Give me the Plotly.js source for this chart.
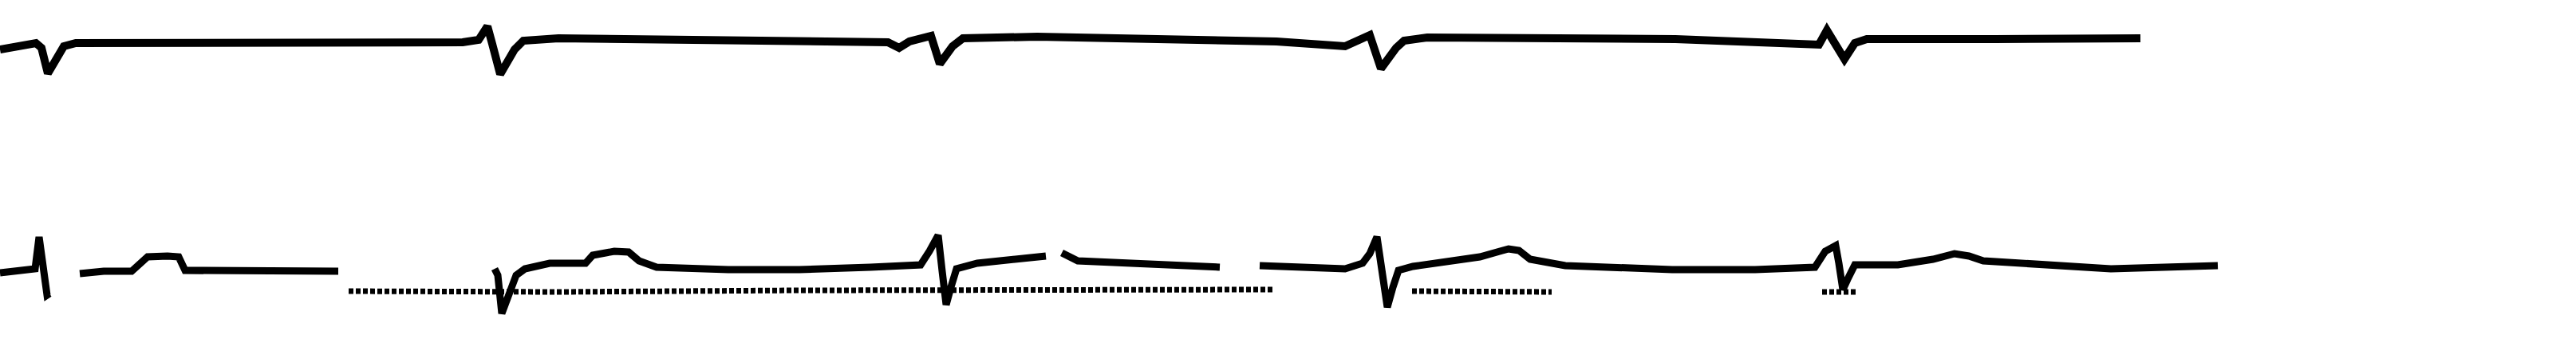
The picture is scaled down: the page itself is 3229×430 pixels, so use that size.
<!DOCTYPE html>
<html>
<head>
<meta charset="utf-8">
<script src="https://cdn.plot.ly/plotly-3.0.1.min.js"></script>
<style>html,body{margin:0;padding:0;background:#fff;}#chart{width:3229px;height:430px;}</style>
</head>
<body>
<div id="chart"></div>
<script>
// Lead 1 (upper strip): time (ms) and amplitude (mV)
const lead1Time = [0,22,45,52,60,70,80,95,300,500,580,600,611,617,627,645,656,700,900,1113,1127,1140,1167,1178,1194,1207,1300,1450,1600,1686,1717,1731,1750,1760,1789,2100,2280,2290,2312,2325,2340,2500,2683];
const lead1Value = [-0.10,-0.05,-0.02,-0.08,-0.40,-0.23,-0.06,-0.02,-0.01,-0.02,-0.01,0.02,0.19,-0.03,-0.41,-0.10,0.01,0.04,0.02,-0.01,-0.08,0.00,0.07,-0.28,-0.06,0.04,0.06,0.02,0.00,-0.06,0.08,-0.34,-0.08,0.01,0.05,0.03,-0.04,0.14,-0.22,-0.02,0.03,0.03,0.04];

// Lead 2 (lower strip), segments separated by gaps (null)
const lead2Time = [0,30,44,49,54,59,62, null,
  100,130,165,172,185,210,224,232,300,424, null,
  620,624,629,640,647,658,689,734,743,770,788,801,823,913,1002,1091,1154,1165,1176,1181,1186,1192,1199,1225,1260,1311, null,
  1331,1340,1351,1418,1470,1529, null,
  1579,1650,1686,1708,1717,1726,1732,1739,1746,1753,1771,1820,1855,1880,1891,1904,1918,1962,2096,2200,2275,2288,2301,2305,2310,2316,2325,2379,2423,2450,2468,2486,2557,2646,2780];
const lead2Value = [-0.05,-0.03,0.00,0.40,0.02,-0.33,-0.31, null,
  -0.06,-0.03,-0.03,0.04,0.15,0.16,0.15,-0.02,-0.03,-0.03, null,
  0.00,-0.08,-0.56,-0.28,-0.08,0.00,0.07,0.07,0.17,0.22,0.21,0.10,0.02,-0.01,-0.01,0.02,0.05,0.22,0.42,-0.03,-0.45,-0.23,0.00,0.07,0.10,0.16, null,
  0.20,0.15,0.10,0.07,0.05,0.02, null,
  0.04,0.00,0.00,0.07,0.19,0.40,-0.03,-0.48,-0.23,-0.02,0.03,0.11,0.15,0.22,0.25,0.23,0.12,0.04,-0.01,-0.01,0.02,0.22,0.29,0.07,-0.26,-0.13,0.05,0.05,0.12,0.19,0.16,0.10,0.05,0.00,0.04];

// Lead 2 overlaid dotted trace
const dottedTime = [437,620,700,1000,1300,1596, null, 1770,1945, null, 2284,2328];
const dottedValue = [-0.28,-0.28,-0.29,-0.27,-0.27,-0.26, null, -0.28,-0.29, null, -0.29,-0.29];

const traces = [
  {x: lead1Time, y: lead1Value, type: 'scatter', mode: 'lines', xaxis: 'x', yaxis: 'y',
   line: {color: '#000', width: 10, shape: 'linear'}, hoverinfo: 'skip'},
  {x: lead2Time, y: lead2Value, type: 'scatter', mode: 'lines', xaxis: 'x', yaxis: 'y2',
   connectgaps: false, line: {color: '#000', width: 9}, hoverinfo: 'skip'},
  {x: dottedTime, y: dottedValue, type: 'scatter', mode: 'lines', xaxis: 'x', yaxis: 'y2',
   connectgaps: false, line: {color: '#000', width: 7, dash: '6px,3px'}, hoverinfo: 'skip'}
];

const hidden = {showgrid: false, zeroline: false, showticklabels: false, ticks: '', showline: false};
const layout = {
  width: 3229, height: 430,
  margin: {l: 0, r: 0, t: 0, b: 0},
  paper_bgcolor: '#fff', plot_bgcolor: '#fff',
  showlegend: false,
  xaxis: Object.assign({range: [0, 3229]}, hidden),
  yaxis: Object.assign({domain: [0.5, 1], range: [-1.63, 0.52]}, hidden),
  yaxis2: Object.assign({domain: [0, 0.5], range: [-0.93, 1.22]}, hidden)
};

Plotly.newPlot('chart', traces, layout, {staticPlot: true, displayModeBar: false});
</script>
</body>
</html>
